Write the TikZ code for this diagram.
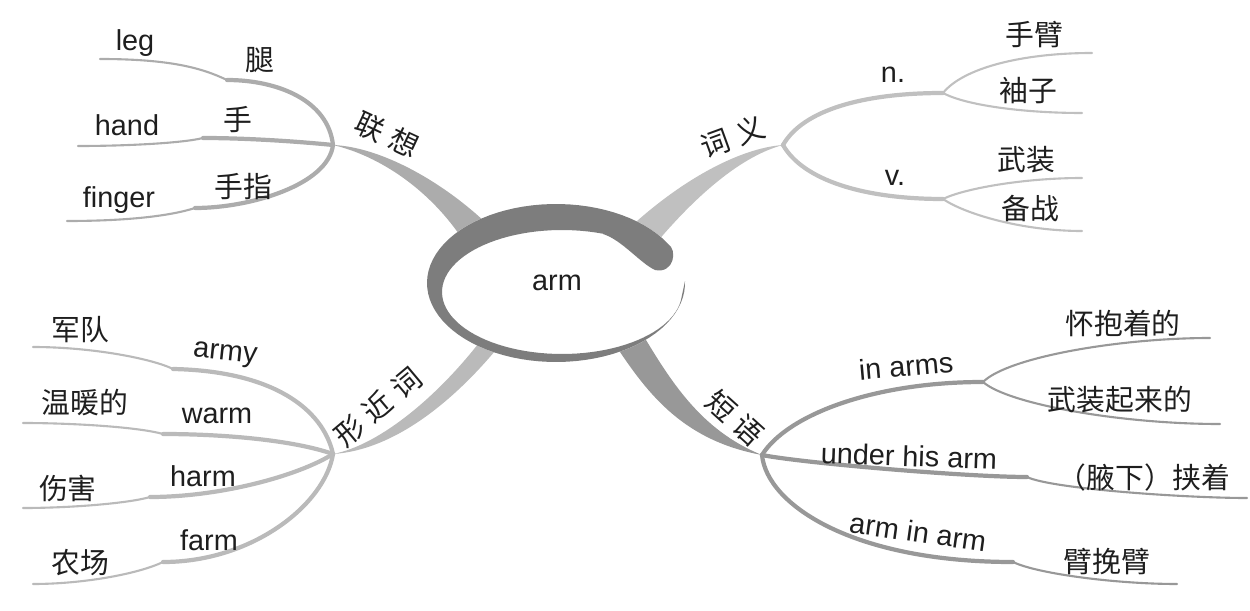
\documentclass[tikz,border=0pt]{standalone}
\usepackage{fontspec}
\setmainfont{Liberation Sans}
\newfontfamily\cjk{Noto Sans CJK SC}
\usetikzlibrary{positioning}
\definecolor{ringc}{RGB}{125,125,125}
\definecolor{brassoc}{RGB}{172,172,172}
\definecolor{brmean}{RGB}{192,192,192}
\definecolor{brsim}{RGB}{186,186,186}
\definecolor{brphr}{RGB}{152,152,152}
\definecolor{ink}{RGB}{30,30,30}
\newcommand{\gap}{\hspace{0.28em}}

\begin{document}
\begin{tikzpicture}[x=0.02cm, y=-0.02cm,
    lbl/.style={font=\fontsize{16.4}{19}\selectfont, text=ink, inner sep=0pt},
    zh/.style={lbl, font=\cjk\fontsize{16.4}{19}\selectfont},
    limb/.style={line width=2.4pt, line cap=round},
    twig/.style={line width=1.2pt, line cap=round}
]
\useasboundingbox (0,0) rectangle (1250,611);

% hubs
\coordinate (assoc) at (333,145);
\coordinate (mean) at (783,145);
\coordinate (simil) at (333,454);
\coordinate (phrase) at (762,455);

% knees and ends
\coordinate (legk) at (227,80);    \coordinate (lege) at (100,59);
\coordinate (handk) at (203,138);  \coordinate (hande) at (78,146);
\coordinate (fingk) at (195,208);  \coordinate (finge) at (67,221);
\coordinate (nf) at (943,93);      \coordinate (armn) at (1092,53);
\coordinate (sleeve) at (1082,113);
\coordinate (vf) at (943,199);     \coordinate (armv) at (1082,178);
\coordinate (ready) at (1082,231);
\coordinate (armyk) at (173,369);  \coordinate (armye) at (33,347);
\coordinate (warmk) at (163,434);  \coordinate (warme) at (23,423);
\coordinate (harmk) at (150,497);  \coordinate (harme) at (23,508);
\coordinate (farmk) at (163,562);  \coordinate (farme) at (33,584);
\coordinate (inf) at (983,382);    \coordinate (hold) at (1210,338);
\coordinate (armed) at (1220,424);
\coordinate (underk) at (1027,477); \coordinate (undere) at (1247,498);
\coordinate (aiak) at (1013,562);  \coordinate (aiae) at (1177,584);

% trunks
\fill[brassoc] (assoc) .. controls (380,147) and (440,180) .. (485,222)
    -- (463,240) .. controls (430,190) and (380,156) .. (assoc) -- cycle;
\fill[brmean] (mean) .. controls (740,148) and (680,180) .. (625,232)
    -- (652,248) .. controls (700,190) and (745,155) .. (mean) -- cycle;
\fill[brsim] (simil) .. controls (380,445) and (440,395) .. (485,335)
    -- (500,345) .. controls (455,400) and (395,450) .. (simil) -- cycle;
\fill[brphr] (612,340) .. controls (645,390) and (680,440) .. (phrase)
    .. controls (700,430) and (670,380) .. (640,330) -- cycle;

% centre ring
\fill[white] plot[domain=0:360, samples=90] ({556+129*cos(\x)}, {283+79*sin(\x)}) -- cycle;
\fill[ringc] (685,281) -- plot[domain=2:330, samples=80] ({556+129*cos(\x)}, {283+79*sin(\x)})
    .. controls (678,250) and (674,274) .. (655,270)
    .. controls (640,263) and (622,240) .. (603,234)
    -- plot[domain=290:8, samples=80] ({562+120*cos(\x)}, {292+62*sin(\x)}) -- cycle;
\node[lbl] (core) at (557,283) {arm};

% 联想
\draw[limb, brassoc] (assoc) .. controls +(-5,-45) and +(50,0) .. (legk);
\draw[twig, brassoc] (legk) .. controls +(-25,-12) and +(70,0) .. (lege);
\draw[limb, brassoc] (assoc) .. controls +(-40,-4) and +(40,0) .. (handk);
\draw[twig, brassoc] (handk) .. controls +(-20,5) and +(50,0) .. (hande);
\draw[limb, brassoc] (assoc) .. controls +(-5,40) and +(55,0) .. (fingk);
\draw[twig, brassoc] (fingk) .. controls +(-25,8) and +(60,0) .. (finge);

% 词义
\draw[limb, brmean] (mean) .. controls +(20,-35) and +(-80,0) .. (nf);
\draw[twig, brmean] (nf) .. controls +(20,-25) and +(-70,0) .. (armn);
\draw[twig, brmean] (nf) .. controls +(22,12) and +(-60,0) .. (sleeve);
\draw[limb, brmean] (mean) .. controls +(20,35) and +(-80,0) .. (vf);
\draw[twig, brmean] (vf) .. controls +(20,-10) and +(-60,0) .. (armv);
\draw[twig, brmean] (vf) .. controls +(22,15) and +(-60,0) .. (ready);

% 形近词
\draw[limb, brsim] (simil) .. controls +(-10,-45) and +(100,2) .. (armyk);
\draw[twig, brsim] (armyk) .. controls +(-20,-10) and +(60,0) .. (armye);
\draw[limb, brsim] (simil) .. controls +(-40,-14) and +(60,0) .. (warmk);
\draw[twig, brsim] (warmk) .. controls +(-25,-7) and +(50,0) .. (warme);
\draw[limb, brsim] (simil) .. controls +(-35,22) and +(70,0) .. (harmk);
\draw[twig, brsim] (harmk) .. controls +(-20,6) and +(50,0) .. (harme);
\draw[limb, brsim] (simil) .. controls +(-8,50) and +(90,0) .. (farmk);
\draw[twig, brsim] (farmk) .. controls +(-25,12) and +(50,0) .. (farme);

% 短语
\draw[limb, brphr] (phrase) .. controls +(25,-40) and +(-110,0) .. (inf);
\draw[twig, brphr] (inf) .. controls +(25,-25) and +(-90,0) .. (hold);
\draw[twig, brphr] (inf) .. controls +(25,22) and +(-100,0) .. (armed);
\draw[limb, brphr] (phrase) .. controls +(40,8) and +(-60,0) .. (underk);
\draw[twig, brphr] (underk) .. controls +(25,12) and +(-60,0) .. (undere);
\draw[limb, brphr] (phrase) .. controls +(5,50) and +(-160,0) .. (aiak);
\draw[twig, brphr] (aiak) .. controls +(25,12) and +(-60,0) .. (aiae);

% branch labels
\node[zh, rotate=-25] (assocl) at (387,135) {联\gap 想};
\node[zh, rotate=20] (meanl) at (733,137) {词\gap 义};
\node[zh, rotate=40] (simill) at (378,407) {形\gap 近\gap 词};
\node[zh, rotate=-42] (phrasel) at (735,418) {短\gap 语};

% leaves
\node[lbl] (leg) at (135,43.5) {leg};
\node[zh] (legzh) at (260,60) {腿};
\node[lbl] (hand) at (127,125) {hand};
\node[zh] (handzh) at (238,120) {手};
\node[lbl] (finger) at (119,200.5) {finger};
\node[zh] (fingerzh) at (243,187) {手指};

\node[lbl] (noun) at (893,75) {n.};
\node[zh] (noun1) at (1034,35) {手臂};
\node[zh] (noun2) at (1028,91) {袖子};
\node[lbl] (verb) at (895,178) {v.};
\node[zh] (verb1) at (1026,160) {武装};
\node[zh] (verb2) at (1030,209) {备战};

\node[zh] (armyzh) at (80,330) {军队};
\node[lbl, rotate=-6] (army) at (225,355) {army};
\node[zh] (warmzh) at (85,403) {温暖的};
\node[lbl] (warm) at (217,416) {warm};
\node[zh] (harmzh) at (68,489) {伤害};
\node[lbl] (harm) at (203,476) {harm};
\node[zh] (farmzh) at (80,563) {农场};
\node[lbl] (farm) at (209,540) {farm};

\node[lbl, rotate=5] (inarms) at (906,366) {in arms};
\node[zh] (inarms1) at (1123,323) {怀抱着的};
\node[zh] (inarms2) at (1120,400) {武装起来的};
\node[lbl, rotate=-2] (under) at (909,456) {under his arm};
\node[zh] (underzh) at (1144,478) {（腋下）挟着};
\node[lbl, rotate=-8] (aia) at (918,532) {arm in arm};
\node[zh] (aiazh) at (1107,562) {臂挽臂};
\end{tikzpicture}
\end{document}
